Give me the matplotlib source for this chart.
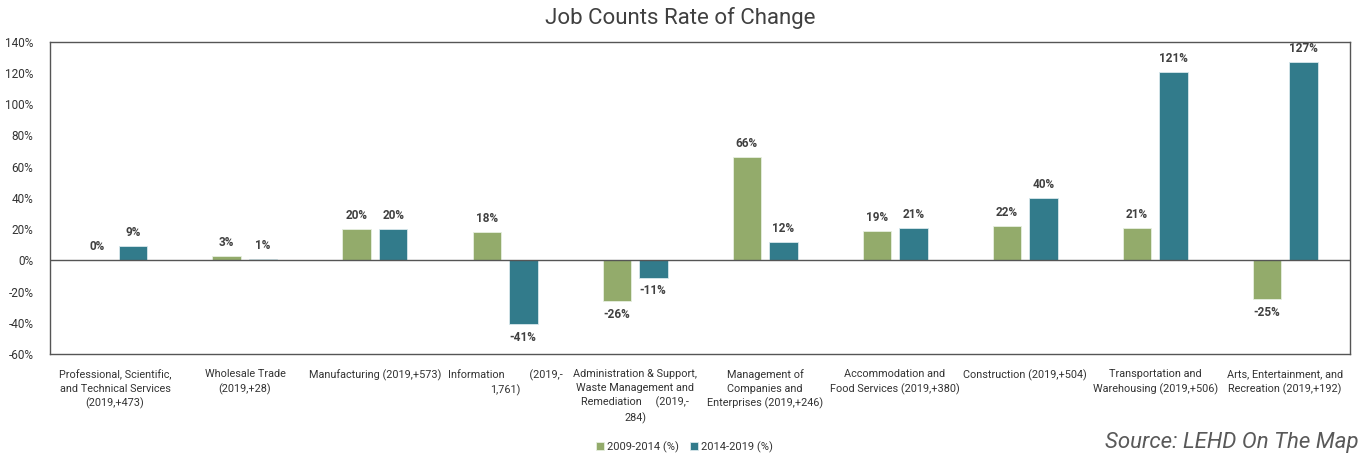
import numpy as np
import matplotlib
matplotlib.use("Agg")
import matplotlib.pyplot as plt
from matplotlib.ticker import FuncFormatter

plt.rcParams['font.family'] = ['Roboto', 'DejaVu Sans']

# Industry sectors with the 2019 job count change in brackets
categories = [
    "Professional, Scientific,\nand Technical Services\n(2019,+473)",
    "Wholesale Trade\n(2019,+28)",
    "Manufacturing (2019,+573)",
    "Information         (2019,-\n1,761)",
    "Administration & Support,\nWaste Management and\nRemediation     (2019,-\n284)",
    "Management of\nCompanies and\nEnterprises (2019,+246)",
    "Accommodation and\nFood Services (2019,+380)",
    "Construction (2019,+504)",
    "Transportation and\nWarehousing (2019,+506)",
    "Arts, Entertainment, and\nRecreation (2019,+192)",
]
rate_2009_2014 = [0, 3, 20, 18, -26, 66, 19, 22, 21, -25]
rate_2014_2019 = [9, 1, 20, -41, -11, 12, 21, 40, 121, 127]
series_names = ["2009-2014 (%)", "2014-2019 (%)"]
colors = ['#93ab6b', '#327b8b']

fig = plt.figure(figsize=(13.61, 4.55), dpi=100)
ax = fig.add_axes([0.0367, 0.222, 0.9553, 0.686])

x = np.arange(len(categories))
width = 0.22
offset = 0.14

bars1 = ax.bar(x - offset, rate_2009_2014, width, color=colors[0],
               edgecolor='#e6efe0', linewidth=0.6, label=series_names[0], zorder=2)
bars2 = ax.bar(x + offset, rate_2014_2019, width, color=colors[1],
               edgecolor='#d8e8ec', linewidth=0.6, label=series_names[1], zorder=2)

# value labels above positive bars, below negative ones
for bars in (bars1, bars2):
    for b in bars:
        v = b.get_height()
        xc = b.get_x() + b.get_width() / 2
        if v >= 0:
            ax.annotate(f"{v:.0f}%", (xc, v), xytext=(0, 5), textcoords='offset points',
                        ha='center', va='bottom', fontsize=8.5, fontweight='bold', color='#404040')
        else:
            ax.annotate(f"{v:.0f}%", (xc, v), xytext=(0, -5), textcoords='offset points',
                        ha='center', va='top', fontsize=8.5, fontweight='bold', color='#404040')

ax.axhline(0, color='#555555', linewidth=1.0, zorder=3)

ax.set_xlim(-0.5, len(categories) - 0.5)
ax.set_ylim(-60, 140)
ax.set_yticks(np.arange(-60, 141, 20))
ax.yaxis.set_major_formatter(FuncFormatter(lambda v, p: f"{v:.0f}%"))
ax.tick_params(axis='y', length=0, labelsize=8.5, labelcolor='#333333', pad=12)

ax.set_xticks(x)
ax.set_xticklabels(categories, fontsize=7.8, color='#333333', linespacing=1.45)
ax.tick_params(axis='x', length=0, pad=11)

for s in ax.spines.values():
    s.set_color('#555555')
    s.set_linewidth(1.0)

fig.text(0.5, 0.96, "Job Counts Rate of Change", ha='center', va='center',
         fontsize=16, color='#404040')

fig.legend(handles=[bars1, bars2], labels=series_names, loc='center',
           bbox_to_anchor=(0.503, 0.018), ncol=2, frameon=False, fontsize=8,
           handlelength=0.7, handleheight=0.7, handletextpad=0.3, columnspacing=1.0,
           labelcolor='#333333')

# source note runs up to the right edge of the figure
fig.text(0.812, 0.027, "Source: LEHD On The Map", ha='left', va='center',
         fontsize=16, style='italic', color='#595959')

fig.savefig("out.png", dpi=100)
